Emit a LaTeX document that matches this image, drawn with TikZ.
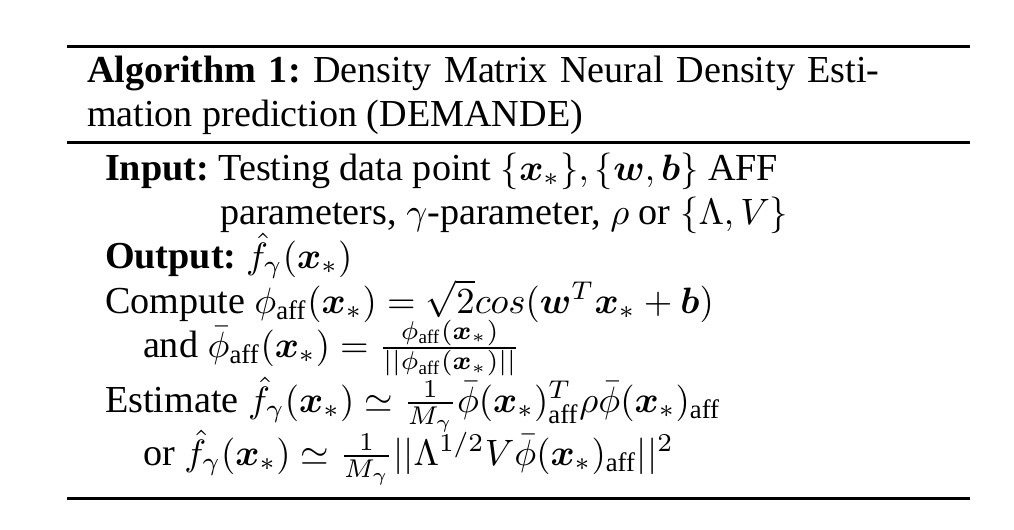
\documentclass[tikz,border=0pt]{standalone}
\usepackage{amsmath,amssymb,bm}
\usepackage{fontspec}
\setmainfont[Scale=1.04]{Liberation Serif}
\frenchspacing
\newcommand{\aff}{\text{aff}}
\tikzset{ln/.style={anchor=base west, inner sep=0pt, outer sep=0pt},
  rulex/.style={line width=0.82pt}}
\begin{document}
\begin{tikzpicture}[x=0.2725pt,y=-0.2725pt]
\useasboundingbox (0,0) rectangle (1014,529);
\draw[rulex] (67,46.5) -- (970,46.5);
\draw[rulex] (67,142) -- (970,142);
\draw[rulex] (67,498.5) -- (970,498.5);
\node[ln] (c1) at (87,82) {\hbox to 216pt{\textbf{Algorithm 1:} Density Matrix Neural Density Esti-}};
\node[ln] (c2) at (87,126) {mation prediction (DEMANDE)};
\node[ln] (in1) at (105,180) {\textbf{Input:} Testing data point $\{\bm{x}_*\}, \{\bm{w}, \bm{b}\}$ AFF};
\node[ln] (in2) at (220,224) {parameters, $\gamma$-parameter, $\rho$ or $\{\Lambda, V\}$};
\node[ln] (out) at (105,268) {\textbf{Output:} $\hat{f}_\gamma(\bm{x}_*)$};
\node[ln] (s1) at (105,313) {Compute $\phi_{\aff}(\bm{x}_*) = \sqrt{2}cos(\bm{w}^T\bm{x}_* + \bm{b})$};
\node[ln] (s2) at (143,357) {and $\bar{\phi}_{\aff}(\bm{x}_*) = \frac{\phi_{\aff}(\bm{x}_*)}{||\phi_{\aff}(\bm{x}_*)||}$};
\node[ln] (s3) at (105,412) {Estimate $\hat{f}_\gamma(\bm{x}_*) \simeq \frac{1}{M_\gamma}\bar{\phi}(\bm{x}_*)^T_{\aff}\rho\bar{\phi}(\bm{x}_*)_{\aff}$};
\node[ln] (s4) at (143,465) {or $\hat{f}_\gamma(\bm{x}_*) \simeq \frac{1}{M_\gamma}||\Lambda^{1/2}V\bar{\phi}(\bm{x}_*)_{\aff}||^2$};
\end{tikzpicture}
\end{document}
